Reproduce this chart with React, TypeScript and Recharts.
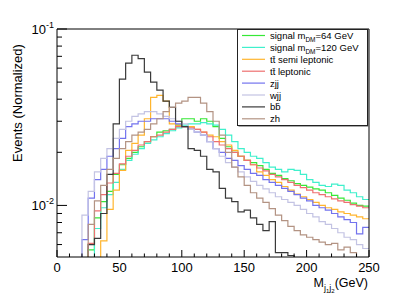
import { LineChart, Line, XAxis, YAxis } from 'recharts';

const FONT = 'Liberation Sans, Arial, Helvetica, sans-serif';

// lower edge of each 5 GeV bin
const BIN_EDGES = [
  0, 5, 10, 15, 20, 25, 30, 35, 40, 45, 50, 55, 60, 65, 70, 75, 80, 85, 90, 95,
  100, 105, 110, 115, 120, 125, 130, 135, 140, 145, 150, 155, 160, 165, 170, 175, 180, 185, 190, 195,
  200, 205, 210, 215, 220, 225, 230, 235, 240, 245,
];
const X_MAX = 250;
const X_TICKS = [0, 10, 20, 30, 40, 50, 60, 70, 80, 90, 100, 110, 120, 130, 140, 150, 160, 170, 180, 190, 200, 210, 220, 230, 240, 250];
const Y_TICKS = [0.006, 0.007, 0.008, 0.009, 0.01, 0.02, 0.03, 0.04, 0.05, 0.06, 0.07, 0.08, 0.09, 0.1];

const SIGNAL_64 = [
  0, 0, 0, 0, 0, 0.0056, 0.0085, 0.0105, 0.012, 0.015, 0.017, 0.0185, 0.02, 0.0215, 0.023, 0.0245, 0.026, 0.0265, 0.027, 0.0285,
  0.031, 0.031, 0.03, 0.031, 0.03, 0.028, 0.024, 0.0215, 0.02, 0.019, 0.018, 0.0175, 0.0168, 0.016, 0.0152, 0.0148, 0.0142, 0.0138, 0.0133, 0.013,
  0.0127, 0.0124, 0.0122, 0.0118, 0.0114, 0.011, 0.0107, 0.0103, 0.01, 0.0099,
];
const SIGNAL_120 = [
  0, 0, 0, 0, 0, 0, 0.0074, 0.0097, 0.0115, 0.0135, 0.016, 0.018, 0.0195, 0.021, 0.0225, 0.0235, 0.0245, 0.0255, 0.0265, 0.0275,
  0.0285, 0.029, 0.029, 0.0295, 0.029, 0.0285, 0.027, 0.025, 0.023, 0.021, 0.02, 0.019, 0.0185, 0.0175, 0.0165, 0.016, 0.0155, 0.016, 0.0158, 0.015,
  0.014, 0.0135, 0.013, 0.0128, 0.0132, 0.013, 0.0122, 0.0118, 0.0112, 0.0108,
];
const TT_SEMI = [
  0, 0, 0, 0, 0, 0, 0, 0.0063, 0.0095, 0.0122, 0.0158, 0.0205, 0.0225, 0.025, 0.031, 0.041, 0.042, 0.039, 0.029, 0.0285,
  0.028, 0.028, 0.027, 0.026, 0.025, 0.0245, 0.023, 0.022, 0.0205, 0.019, 0.018, 0.017, 0.0155, 0.0148, 0.014, 0.0135, 0.0128, 0.0122, 0.0116, 0.0112,
  0.0108, 0.0104, 0.01, 0.0097, 0.0095, 0.0092, 0.009, 0.0088, 0.0086, 0.0084,
];
const TT_LEP = [
  0, 0, 0, 0, 0, 0.0061, 0.0093, 0.0115, 0.0134, 0.0152, 0.0172, 0.019, 0.0205, 0.022, 0.023, 0.0245, 0.025, 0.026, 0.027, 0.028,
  0.028, 0.0275, 0.027, 0.026, 0.0245, 0.023, 0.022, 0.021, 0.02, 0.019, 0.018, 0.017, 0.0163, 0.0157, 0.015, 0.0145, 0.014, 0.0135, 0.013, 0.0126,
  0.0122, 0.0118, 0.0115, 0.0112, 0.0109, 0.0106, 0.0104, 0.0101, 0.0099, 0.0097,
];
const ZJJ = [
  0, 0, 0, 0, 0.0064, 0.011, 0.014, 0.016, 0.019, 0.021, 0.024, 0.028, 0.029, 0.03, 0.03, 0.031, 0.031, 0.031, 0.03, 0.029,
  0.028, 0.027, 0.026, 0.025, 0.023, 0.021, 0.02, 0.0185, 0.018, 0.0168, 0.016, 0.0152, 0.0148, 0.014, 0.0135, 0.013, 0.0125, 0.012, 0.0115, 0.011,
  0.0106, 0.01, 0.0097, 0.0094, 0.009, 0.0086, 0.0083, 0.008, 0.0069, 0.0075,
];
const WJJ = [
  0, 0, 0, 0, 0.0088, 0.012, 0.0155, 0.0185, 0.021, 0.024, 0.027, 0.03, 0.032, 0.033, 0.034, 0.034, 0.033, 0.032, 0.031, 0.03,
  0.029, 0.027, 0.026, 0.025, 0.023, 0.021, 0.019, 0.0175, 0.0165, 0.0155, 0.0145, 0.0137, 0.013, 0.0124, 0.0118, 0.0112, 0.0108, 0.0104, 0.01, 0.0095,
  0.009, 0.0086, 0.0081, 0.0078, 0.0074, 0.007, 0.0066, 0.0064, 0.006, 0.0057,
];
const BB = [
  0, 0, 0, 0, 0, 0.006, 0.0065, 0.009, 0.015, 0.029, 0.052, 0.064, 0.071, 0.068, 0.057, 0.05, 0.045, 0.039, 0.036, 0.03,
  0.028, 0.021, 0.0205, 0.019, 0.016, 0.0155, 0.0125, 0.011, 0.0105, 0.0092, 0.0094, 0.0085, 0.0078, 0.0072, 0.0081, 0.0054, 0.0054, 0.0052, 0, 0,
  0, 0, 0, 0, 0, 0, 0, 0, 0, 0,
];
const ZH = [
  0, 0, 0, 0, 0, 0.0078, 0.0106, 0.013, 0.016, 0.0185, 0.021, 0.023, 0.025, 0.026, 0.027, 0.029, 0.031, 0.034, 0.036, 0.038,
  0.039, 0.041, 0.041, 0.038, 0.034, 0.03, 0.025, 0.02, 0.0165, 0.0145, 0.013, 0.0118, 0.011, 0.0104, 0.0096, 0.0088, 0.0082, 0.0076, 0.0072, 0.0068,
  0.0066, 0.0064, 0.0062, 0.006, 0.0061, 0.0056, 0.0058, 0.0054, 0, 0,
];

// empty bins go below the axis so the step is clipped like in ROOT
const FLOOR = 0.001;

const SERIES = [
  { key: 'sig64', values: SIGNAL_64, color: '#36e836' },
  { key: 'sig120', values: SIGNAL_120, color: '#3ff0cc' },
  { key: 'ttsemi', values: TT_SEMI, color: '#ffb52e' },
  { key: 'ttlep', values: TT_LEP, color: '#ee7070' },
  { key: 'zjj', values: ZJJ, color: '#7373ee' },
  { key: 'wjj', values: WJJ, color: '#c3c3e3' },
  { key: 'bb', values: BB, color: '#3a3a3a' },
  { key: 'zh', values: ZH, color: '#b39383' },
];

const data = [...BIN_EDGES, X_MAX].map((edge, i) => {
  const row: Record<string, number> = { x: edge };
  SERIES.forEach((s) => {
    const v = s.values[Math.min(i, s.values.length - 1)];
    row[s.key] = v > 0 ? v : FLOOR;
  });
  return row;
});

const XTick = (props: any) => {
  const { x, y, payload } = props;
  const major = payload.value % 50 === 0;
  return (
    <g>
      <line x1={x} x2={x} y1={y} y2={y - (major ? 7 : 3.5)} stroke="#000" />
      {major && (
        <text x={x} y={y + 14.5} textAnchor="middle" fontSize={13} fontFamily={FONT} fill="#000">
          {payload.value}
        </text>
      )}
    </g>
  );
};

const YTick = (props: any) => {
  const { x, y, payload } = props;
  const exp = Math.round(Math.log10(payload.value));
  const major = Math.abs(payload.value - Math.pow(10, exp)) < 1e-9;
  return (
    <g>
      <line x1={x} x2={x + (major ? 10 : 5)} y1={y} y2={y} stroke="#000" />
      {major && (
        <text x={x - 3} y={y + 4.5} textAnchor="end" fontSize={13} fontFamily={FONT} fill="#000">
          10
          <tspan dy={-6} fontSize={9}>{exp}</tspan>
        </text>
      )}
    </g>
  );
};

const LEGEND = [
  { label: 'signal m', sub: 'DM', tail: '=64 GeV', color: SERIES[0].color },
  { label: 'signal m', sub: 'DM', tail: '=120 GeV', color: SERIES[1].color },
  { label: 'tt\u0304 semi leptonic', color: SERIES[2].color },
  { label: 'tt\u0304 leptonic', color: SERIES[3].color },
  { label: 'zjj', color: SERIES[4].color },
  { label: 'wjj', color: SERIES[5].color },
  { label: 'bb\u0304', color: SERIES[6].color },
  { label: 'zh', color: SERIES[7].color },
];

const Overlay = () => (
  <svg width={409} height={300} style={{ position: 'absolute', left: 0, top: 0, pointerEvents: 'none' }}>
    <text transform="translate(22,103) rotate(-90)" textAnchor="middle" fontSize={13} fontFamily={FONT} fill="#000">
      Events (Normalized)
    </text>
    <text x={368} y={287} textAnchor="end" fontSize={12.5} fontFamily={FONT} fill="#000">
      M
      <tspan dy={4} fontSize={9}>j</tspan>
      <tspan dy={2} fontSize={6}>1</tspan>
      <tspan dy={-2} fontSize={9}>j</tspan>
      <tspan dy={2} fontSize={6}>2</tspan>
      <tspan dy={-6}>(GeV)</tspan>
    </text>
    <g transform="translate(237,29)">
      <rect x={1.5} y={1.5} width={130} height={96} fill="#555" />
      <rect x={0.5} y={0.5} width={130} height={96} fill="#fff" stroke="#222" />
      {LEGEND.map((e, i) => {
        const cy = 6.5 + i * 11.9;
        return (
          <g key={i}>
            <line x1={5} x2={28} y1={cy} y2={cy} stroke={e.color} strokeWidth={1.2} />
            <text x={33} y={cy + 3.5} fontSize={9.5} fontFamily={FONT} fill="#000">
              {e.label}
              {e.sub && (
                <>
                  <tspan dy={3} fontSize={6.5}>{e.sub}</tspan>
                  <tspan dy={-3}>{e.tail}</tspan>
                </>
              )}
            </text>
          </g>
        );
      })}
    </g>
  </svg>
);

export default function App() {
  return (
    <div style={{ position: 'absolute', left: 0, top: 0, width: 409, height: 300, background: '#fff' }}>
      <LineChart width={409} height={300} data={data} margin={{ top: 0, right: 0, bottom: 0, left: 0 }}>
        <XAxis
          dataKey="x"
          type="number"
          domain={[0, X_MAX]}
          allowDataOverflow
          ticks={X_TICKS}
          interval={0}
          height={43}
          tickSize={0}
          tickMargin={0}
          tickLine={false}
          axisLine={{ stroke: '#000' }}
          tick={<XTick />}
        />
        <XAxis xAxisId="top" orientation="top" dataKey="x" type="number" domain={[0, X_MAX]} height={29} tick={false} tickLine={false} axisLine={{ stroke: '#000' }} />
        <YAxis
          type="number"
          scale="log"
          domain={[0.0051, 0.1]}
          allowDataOverflow
          ticks={Y_TICKS}
          interval={0}
          width={57}
          tickSize={0}
          tickMargin={0}
          tickLine={false}
          axisLine={{ stroke: '#000' }}
          tick={<YTick />}
        />
        <YAxis yAxisId="right" orientation="right" width={40} tick={false} tickLine={false} axisLine={{ stroke: '#000' }} />
        {SERIES.map((s) => (
          <Line
            key={s.key}
            type="stepAfter"
            dataKey={s.key}
            stroke={s.color}
            strokeWidth={1.2}
            dot={false}
            activeDot={false}
            isAnimationActive={false}
          />
        ))}
      </LineChart>
      <Overlay />
    </div>
  );
}
